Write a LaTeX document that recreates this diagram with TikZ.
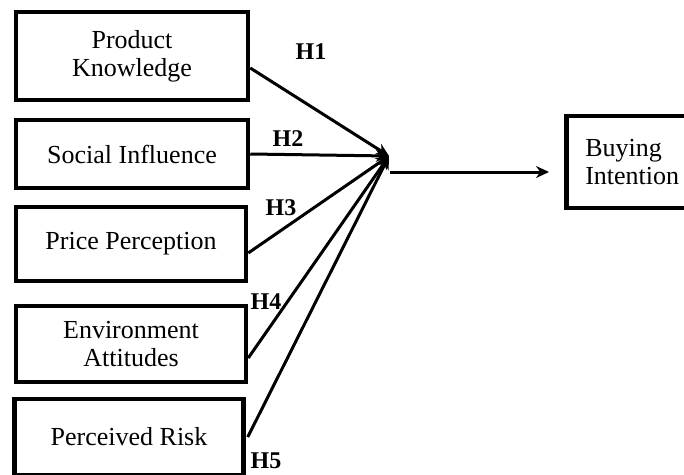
\documentclass[tikz,border=0pt]{standalone}
\usepackage{fontspec}
\setmainfont{Liberation Serif}
\usetikzlibrary{arrows.meta}

\begin{document}
\begin{tikzpicture}[x=1pt, y=-1pt]
    \tikzset{factor/.style={draw, line width=4.5pt, inner sep=0pt, align=center,
                            font=\fontsize{26}{28}\selectfont},
             hyp/.style={font=\bfseries\fontsize{24}{26}\selectfont},
             link/.style={line width=3pt, -{Stealth[length=13pt, width=12pt]}}}
    \useasboundingbox (0,0) rectangle (684,474);
    % independent variables
    \node[factor, minimum width=232pt, minimum height=88pt] (PK) at (132,56) {Product\\Knowledge};
    \node[factor, minimum width=232pt, minimum height=68pt] (SI) at (132,154) {Social Influence};
    \node[factor, minimum width=230pt, minimum height=74pt] (PP) at (131,244) {Price Perception};
    \node[factor, minimum width=230pt, minimum height=76pt] (EA) at (131,344) {Environment\\Attitudes};
    \node[factor, minimum width=229pt, minimum height=76pt] (PR) at (129,437) {Perceived Risk};
    % dependent variable
    \node[factor, align=left, anchor=west, text width=110pt, inner xsep=19pt,
          minimum height=92pt] (BI) at (564,162) {Buying\\Intention};
    \coordinate (hub) at (389,156);
    \coordinate (hubout) at (390,172);
    \coordinate (out) at (549,172);
    \draw[link] ([yshift=-12pt]PK.east) -- (hub);
    \draw[link] (SI.east) -- (hub);
    \draw[link] ([yshift=-9pt]PP.east) -- (hub);
    \draw[link] ([yshift=-14pt]EA.east) -- (hub);
    \draw[link] ([xshift=2pt]PR.east) -- (hub);
    \draw[link] (hubout) -- (out);
    % hypotheses
    \node[hyp] (H1) at (311,52) {H1};
    \node[hyp] (H2) at (288,139) {H2};
    \node[hyp] (H3) at (281,208) {H3};
    \node[hyp] (H4) at (266,302) {H4};
    \node[hyp] (H5) at (266,461) {H5};
\end{tikzpicture}
\end{document}
